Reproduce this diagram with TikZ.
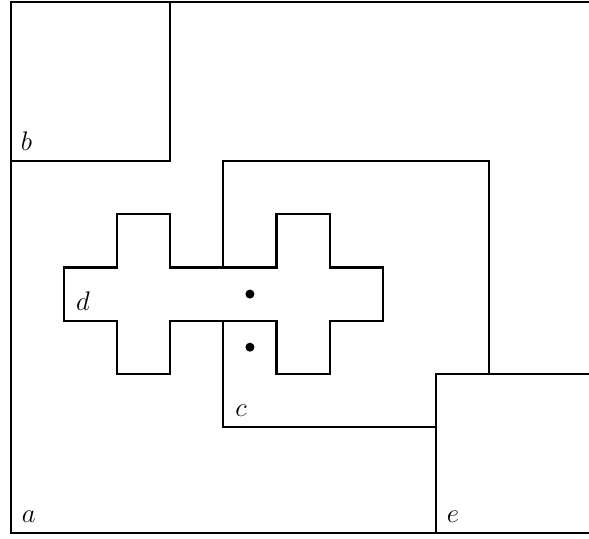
\documentclass[tikz,border=0pt]{standalone}
\begin{document}
\begin{tikzpicture}[x=1cm,y=1cm,
  wall/.style={line width=1.1pt, line join=miter},
  lbl/.style={anchor=base west, inner sep=0pt, font=\fontsize{15}{18}\selectfont},
  dot/.style={fill=black}]
\useasboundingbox (-0.207,-0.094) rectangle (10.885,10.038);
\begin{scope}
\clip (-0.207,-0.094) rectangle (10.885,10.038);
% outer region a
\draw[wall] (12,10) -- (0,10) -- (0,0) -- (12,0);
% region b
\draw[wall] (0,7) -- (3,7) -- (3,10);
% region e
\draw[wall] (8,0) -- (8,3) -- (12,3);
% region c
\draw[wall] (8,2) -- (4,2) -- (4,7) -- (9,7) -- (9,3);
% region d (on top)
\draw[wall, fill=white] (1,4) -- (1,5) -- (2,5) -- (2,6) -- (3,6) -- (3,5) -- (5,5) -- (5,6) -- (6,6) -- (6,5) -- (7,5) -- (7,4) -- (6,4) -- (6,3) -- (5,3) -- (5,4) -- (3,4) -- (3,3) -- (2,3) -- (2,4) -- cycle;
\end{scope}
\fill[dot] (4.5,4.5) circle (0.085);
\fill[dot] (4.5,3.5) circle (0.085);
\node[lbl] (la) at (0.2,0.19) {$a$};
\node[lbl] (lb) at (0.18,7.2) {$b$};
\node[lbl] (lc) at (4.22,2.19) {$c$};
\node[lbl] (ld) at (1.22,4.2) {$d$};
\node[lbl] (le) at (8.2,0.19) {$e$};
\end{tikzpicture}
\end{document}
